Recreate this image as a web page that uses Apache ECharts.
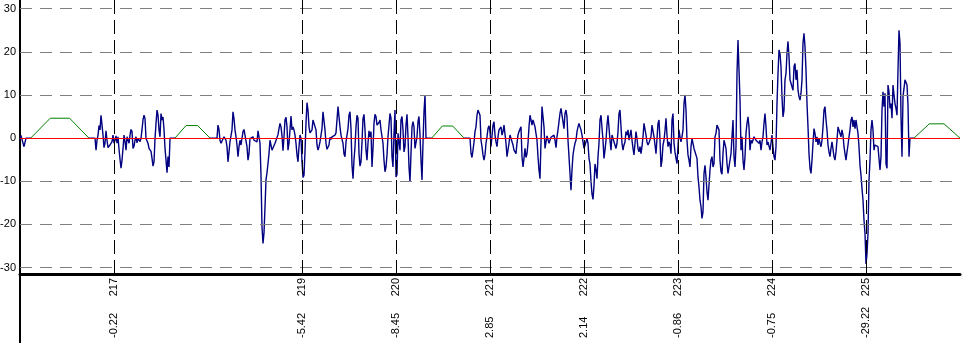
<!DOCTYPE html>
<html><head><meta charset="utf-8">
<script src="https://cdn.jsdelivr.net/npm/echarts@6/dist/echarts.min.js"></script>
<style>html,body{margin:0;padding:0;background:#fff}#c{width:975px;height:343px}</style>
</head><body><div id="c"></div>
<script>
// ---- axis ranges & ticks ----
const X_MIN = 216, X_MAX = 226;
const Y_MIN = -31.5, Y_MAX = 32;
const yTicks = [30, 20, 10, 0, -10, -20, -30];
const labelDays = [217, 219, 220, 221, 222, 223, 224, 225];
const labelValues = ['-0.22', '-5.42', '-8.45', '2.85', '2.14', '-0.86', '-0.75', '-29.22'];

// ---- blue series: sampled segments (sample spacing in days) ----
const STEP = 1 / 94;
const seg1Start = 216.0;
const seg1 = [-0.4, 0.6, -0.3, -0.5, -2.0, -1.6, 0];
const seg2Start = 216.798;
const seg2 = [0, -2.8, -0.5, 0.7, 2.9, 1.9, 5.3, 3.0, 0.7, -2.2,
  -1.2, 1.7, -0.5, -2.2, -2.4, -1.6, -1.2, -0.8, 0.7, -1.2,
  -0.5, 0.5, -1.2, 0.3, -2.6, -4.9, -7.0, -5.1, -2.4, 0.7,
  -0.8, -2.8, 0.3, 0.7, -1.2, 0.7, 2.0, 1.5, -2.4, -1.9,
  -0.5, 0.3, -1.1, -0.1, 0.2, -0.8, -0.1, 2.0, 4.2, 5.3,
  4.5, -0.1, -0.3, -1.2, -2.4, -2.8, -3.1, -4.7, -6.5, -5.5,
  -0.1, 3.4, 6.5, 5.3, 1.9, 0.3, 5.7, 4.2, 4.9, 2.0,
  -2.4, -5.1, -8.0, -4.3, -6.7, 0];
const seg3Start = 218.0957;
const seg3 = [0, 3.0, 2.0, -0.5, -1.2, -1.6, -0.8, 0.3, 0.7, -0.5,
  -2.0, -5.5, -3.2, -0.8, -0.5, 1.9, 6.1, 4.5, 1.9, 0.3,
  -1.6, -4.3, -2.0, -0.5, -1.6, -1.2, 1.5, 2.0, 1.9, 1.7,
  -2.0, -5.1, -3.6, -0.1, 0.2, -0.3, 0.3, -0.5, -0.9, -0.1,
  -0.9, 1.7, 1.5, -1.2, -8.6, -20.6, -24.4, -22.0, -16.0, -9.7,
  -8.0, -5.9, -3.6, -0.5, -0.3, -2.8, -2.5, -2.4, -1.2, -1.2,
  -0.8, 0.8, 2.2, 3.4, 2.6, 0.5, -2.9, 0.3, 4.2, 4.8,
  2.6, -2.8, -1.1, 1.9, 5.1, 1.9, 2.6, 1.9, 0.7, -1.2,
  -3.9, -5.5, -2.0, 0.7, -0.1, -5.4, -9.1, -8.6, -3.2, 3.4,
  8.2, 6.5, 2.6, 1.2, 1.5, 1.9, 4.2, 4.3, 4.6, 1.9,
  -1.6, -2.8, -2.0, -0.9, 0.7, 2.2, 6.1, 5.7, 1.9, -1.2,
  -2.6, -2.4, -1.6, 0.2, -0.3, 0.3, -0.1, 0.2, 0.7, 1.2,
  1.5, 7.3, 7.7, 2.6, 0.7, -0.3, -1.2, -3.7, -4.3, -0.9,
  0.7, 2.2, 5.3, 6.1, 2.2, -6.3, -9.4, -5.1, -2.0, 2.6,
  5.3, 4.6, -3.6, -6.5, -5.5, -1.0, 4.5, 5.5, 2.0, -2.8,
  -5.1, -1.2, 1.7, 0.3, 1.5, -6.7, -2.4, 3.4, 5.5, 5.0,
  3.0, 2.6, 3.6, 4.2, 1.9, 1.5, -1.2, -5.1, -7.8, -6.7,
  -3.9, 0.3, 3.0, 5.7, 4.6, -4.3, -6.7, 1.1, 6.5, -9.0,
  -8.45, 1.1, -0.9, -2.8, 4.2, 5.0, 1.9, -3.2, -2.0, 3.0,
  5.5, 0.3, -6.7, -10.1, -3.6, 2.6, 3.8, 2.6, -2.4, -2.8,
  0.3, 3.8, 5.0, 0.7, -5.1, -9.7, -1.2, 6.1, 10.0, 0];
const seg4Start = 220.7872;
const seg4 = [0, -3.5, -4.5, -2.8, -1.0, 1.5, 2.6, 5.3, 6.5, 6.9,
  5.3, -0.5, -2.0, -3.9, -5.1, -3.9, -1.2, 0.3, 2.2, 2.85,
  1.5, -2.0, -2.4, 3.0, 3.8, 0.7, -0.9, -2.0, 0.3, 1.9,
  1.5, 2.6, 0.7, 1.5, 3.0, 3.4, -1.2, -4.3, -3.9, -1.2,
  0.7, 0.9, 0.5, -1.6, -2.8, -2.6, -3.6, -1.2, 0.7, 1.5,
  1.1, 2.6, -4.3, -6.7, -4.7, -2.4, -4.5, -3.6, -1.2, 2.6,
  5.3, 4.2, 3.0, 4.2, 4.6, 2.6, 2.2, -0.5, -4.3, -7.4,
  -9.4, -0.9, 7.3, 6.9, 2.6, -2.4, -2.8, 0.5, 0.7, -1.2,
  -0.5, 0.2, 0.5, -0.1, 0.7, -0.5, -2.2, 0.3, 1.9, 3.8,
  5.7, 6.9, 7.3, 6.5, 2.2, 5.7, 6.5, 4.9, -0.5, -4.3,
  -8.2, -12.1, -7.4, -3.9, -2.4, -1.2, -0.5, 1.5, 2.6, 3.4,
  2.6, 1.9, 0.7, 0.3, -2.4, -2.8, -2.0, -0.1, -1.2, -4.7,
  -6.0, -10.0, -13.0, -14.2, -11.0, -6.0, -7.4, -9.4, -4.3, -1.2,
  4.2, 5.3, 5.6, -0.5, -4.7, -2.8, -0.5, 3.0, 5.3, 5.7,
  -0.5, -2.8, 0.7, -0.1, 0.3, -0.5, -2.4, -1.2, 1.5, 5.7,
  6.5, 6.1, -1.2, -2.8, -1.6, -0.9, 1.5, 0.7, 1.9, -0.5,
  0.7, 1.9, -0.5, -2.4, -3.9, -1.2, 1.5, -0.1, -2.4, -3.2,
  -2.0, -3.6, -2.0, 0.3, 3.4, 3.0, 0.7, -0.9, -1.6, -1.1,
  -1.2, 0.3, 3.0, 2.6, 0.3, -1.6, -3.6, -0.1, 3.4, 4.2,
  -0.5, -6.7, -5.1, -1.6, -0.5, 1.7, 4.6, 0.7, -2.0, -0.9,
  -1.6, -3.6, 4.2, 5.7, -1.2, -3.2, -4.7, -5.9, -2.0, 1.9,
  0.3, -0.9, 0.3, 1.9, 8.0, 10.0, 6.5, -0.5, -3.9, -5.1,
  -6.7, -2.0, -0.1, -0.5, -2.4, -2.0, -2.8, -4.7, -9.0, -11.3,
  -14.4, -15.9, -18.6, -17.1, -8.2, -6.3, -9.0, -12.5, -14.4, -14.0,
  -7.4, -5.1, -4.3, -6.7, -5.9, 0.3, 1.1, 3.0, 3.4, 1.9,
  -5.1, -7.8, -8.4, -3.6, -0.5, -0.9, -2.4, -5.9, -8.2, -7.8,
  -5.1, -3.6, 0.3, 4.2, -4.3, -6.7, -2.0, 15.0, 22.7, 23.1,
  9.0, -2.8, 0.3, -5.1, -7.4, -4.3, 1.1, 3.4, 4.9, 2.6,
  -2.8, -0.5, -1.2, -1.6, 0.3, 0.7, -0.5, -0.5, -0.1, -1.2,
  -0.5, -2.8, -0.9, 0.3, 3.4, 5.7, 2.6, -1.6, -0.9, -0.5,
  -2.8, -1.2, 0.7, -2.0, -4.3, -5.1, -2.0, 8.0, 15.0, 20.4,
  19.6, 16.6, 9.6, 4.9, 6.5, 13.5, 15.0, 19.6, 22.4, 18.9,
  13.5, 12.7, 11.9, 11.1, 16.6, 17.3, 13.5, 15.8, 11.1, 9.6,
  8.8, 10.4, 13.5, 22.0, 24.3, 21.2, 15.8, 8.0, 2.6, -3.6,
  -7.0, -8.2, -5.1, -1.2, 2.2, 1.1, -0.9, 0.3, -1.6, -0.1,
  -1.2, -2.0, -0.5, 2.6, 6.5, 7.3, 4.2, 1.9, -1.6, -3.2,
  -4.3, -2.4, -0.9, -1.2, -4.3, -5.1, -3.2, -0.5, 2.6, 2.6,
  3.0, 0.3, 1.9, 0.7, -2.0, -3.6, -5.1, -3.2, -1.6, 0.3,
  1.9, 4.2, 4.9, 2.6, 4.2, 2.2, 4.2, 2.6, 1.1, -2.0,
  -6.3, -8.6, -11.7, -14.4, -19.0, -22.1, -29.2, -26.8, -22.1, -9.7,
  -5.1, 1.9, 4.2, 1.9, -2.8, -1.6, -2.0, -1.6, -2.0, -4.7,
  -7.4, -4.3, 6.5, 10.7, 7.3, 10.4, -5.9, -7.0, 12.3, 10.7,
  6.9, 8.0, 4.6, 12.3, 10.0, 8.0, 6.9, 5.3, 15.8, 25.0,
  22.0, 5.0, -4.3, 9.6, 11.5, 13.5, 13.5, 12.3, 7.7, -4.3,
  0];

// ---- green gap markers (trapezoids) ----
const gapStart     = [216.114, 217.649, 220.380, 225.511];
const gapRiseEnd   = [216.322, 217.766, 220.493, 225.673];
const gapFallStart = [216.527, 217.890, 220.603, 225.830];
const gapEnd       = [216.734, 218.021, 220.723, 226.0];
const gapHeight    = [4.6, 2.9, 2.8, 3.3];

// ---- build series data ----
const segStarts = [seg1Start, seg2Start, seg3Start, seg4Start];
const segVals = [seg1, seg2, seg3, seg4];
const blue = [];
segVals.forEach((vals, k) => {
  if (k > 0) blue.push([gapEnd[k - 1], 0]);
  vals.forEach((v, i) => blue.push([segStarts[k] + i * STEP, v]));
  if (k < gapStart.length) { blue.push([gapStart[k], 0]); blue.push([gapStart[k], '-']); }
});
const green = [];
gapStart.forEach((s, k) => {
  green.push([s, 0], [gapRiseEnd[k], gapHeight[k]], [gapFallStart[k], gapHeight[k]], [gapEnd[k], 0], [gapEnd[k], '-']);
});

const FONT = "'Liberation Sans', Arial, sans-serif";
const GRID = { left: 20, right: 15, top: 0, bottom: 69 };
const chart = echarts.init(document.getElementById('c'), null, { renderer: 'canvas' });
const H = 343;
const option = {
  animation: false,
  backgroundColor: '#ffffff',
  grid: Object.assign({ outerBoundsMode: 'none', containLabel: false }, GRID),
  xAxis: [{
    type: 'value', min: X_MIN, max: X_MAX, interval: 1, position: 'bottom',
    axisLine: { show: true, onZero: false, lineStyle: { color: '#000', width: 3 } },
    axisTick: { show: false }, splitLine: { show: false },
    axisLabel: {
      rotate: 90, margin: 4, fontSize: 11, color: '#000', fontFamily: FONT,
      showMinLabel: true, showMaxLabel: true,
      formatter: v => { const i = labelDays.indexOf(Math.round(v)); return i < 0 ? '' : String(labelDays[i]); }
    }
  }, {
    type: 'value', min: X_MIN, max: X_MAX, interval: 1, position: 'bottom',
    axisLine: { show: false, onZero: false }, axisTick: { show: false }, splitLine: { show: false },
    axisLabel: {
      rotate: 90, align: 'left', margin: 64, fontSize: 11, color: '#000', fontFamily: FONT,
      showMinLabel: true, showMaxLabel: true,
      formatter: v => { const i = labelDays.indexOf(Math.round(v)); return i < 0 ? '' : labelValues[i]; }
    }
  }],
  yAxis: {
    type: 'value', min: Y_MIN, max: Y_MAX,
    axisLine: { show: true, onZero: false, lineStyle: { color: '#000', width: 2 } },
    axisTick: { show: false }, splitLine: { show: false },
    axisLabel: { customValues: yTicks, margin: 4, fontSize: 11, color: '#000', fontFamily: FONT }
  },
  graphic: [{
    type: 'line', silent: true, z: 100,
    shape: { x1: GRID.left, y1: H - GRID.bottom, x2: GRID.left, y2: H },
    style: { stroke: '#000', lineWidth: 2 }
  }],
  series: [
    { type: 'line', data: [], z: 1, silent: true,
      markLine: { silent: true, symbol: 'none', animation: false, label: { show: false },
        lineStyle: { color: '#808080', type: [12, 8], width: 1 },
        data: yTicks.filter(v => v !== 0).map(v => ({ yAxis: v })) } },
    { type: 'line', data: blue, z: 2, symbol: 'none', showSymbol: false, silent: true,
      connectNulls: false, lineStyle: { color: '#000080', width: 1.4 } },
    { type: 'line', data: green, z: 2, symbol: 'none', showSymbol: false, silent: true,
      connectNulls: false, lineStyle: { color: '#008000', width: 1 } },
    { type: 'line', data: [], z: 3, silent: true,
      markLine: { silent: true, symbol: 'none', animation: false, label: { show: false },
        lineStyle: { color: '#000', type: [14, 6], width: 1 },
        data: labelDays.map(d => ({ xAxis: d })) } },
    { type: 'line', data: [], z: 4, silent: true,
      markLine: { silent: true, symbol: 'none', animation: false, label: { show: false },
        lineStyle: { color: '#ff0000', type: 'solid', width: 1 },
        data: [{ yAxis: 0 }] } }
  ]
};
chart.setOption(option);
</script></body></html>
